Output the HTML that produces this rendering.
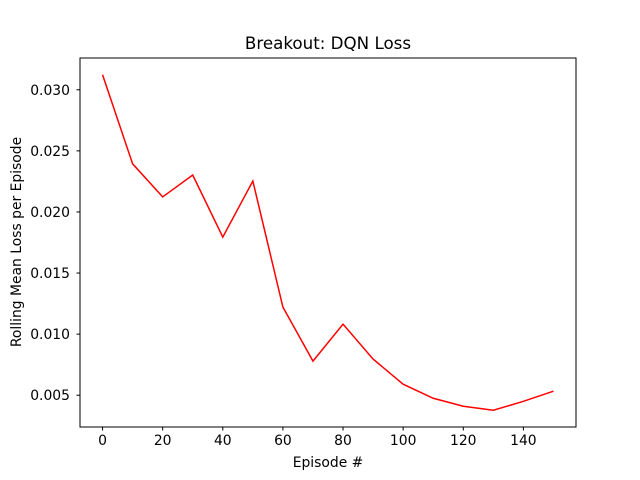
<!DOCTYPE html>
<html><head><meta charset="utf-8"><style>
body{margin:0;background:#fff;}
svg{display:block;font-family:"DejaVu Sans","Liberation Sans",sans-serif;}
</style></head><body>
<svg id="c" width="640" height="480">
<rect width="640" height="480" fill="#fff"/>
<text x="328" y="49" font-size="16.7" text-anchor="middle">Breakout: DQN Loss</text>
<text x="328" y="467" font-size="13.9" text-anchor="middle">Episode #</text>
<text transform="translate(21,242) rotate(-90)" font-size="13.9" text-anchor="middle">Rolling Mean Loss per Episode</text>
<g id="ticks"></g>
<polyline id="line" fill="none" stroke="#ff0000" stroke-width="1.5"/>
<rect x="80" y="58" width="496" height="369" fill="none" stroke="#000" stroke-width="1"/>
</svg>
<script>
const episodes=[0,10,20,30,40,50,60,70,80,90,100,110,120,130,140,150];
const losses=[0.03123,0.02394,0.02123,0.02302,0.01794,0.02253,0.01221,0.00779,0.01082,0.00796,0.0059,0.00475,0.0041,0.00377,0.0045,0.00533];
const xTicks=[0,20,40,60,80,100,120,140];
const yTicks=[0.005,0.010,0.015,0.020,0.025,0.030];
const yLabels=["0.005","0.010","0.015","0.020","0.025","0.030"];
const L=80,R=576,T=58,B=427;
const xMin=-7.5,xMax=157.5,yMin=0.0024,yMax=0.0326;
function sx(v){return L+(v-xMin)/(xMax-xMin)*(R-L);}
function sy(v){return B-(v-yMin)/(yMax-yMin)*(B-T);}
const NS="http://www.w3.org/2000/svg";
const g=document.getElementById('ticks');
xTicks.forEach(t=>{
 const l=document.createElementNS(NS,'line');
 l.setAttribute('x1',sx(t));l.setAttribute('x2',sx(t));l.setAttribute('y1',B);l.setAttribute('y2',B+3.5);l.setAttribute('stroke','#000');
 
 
 g.appendChild(l);
 const tx=document.createElementNS(NS,'text');
 tx.setAttribute('x',sx(t));tx.setAttribute('y',B+18);tx.setAttribute('font-size','13.9');tx.setAttribute('text-anchor','middle');tx.textContent=t;
 
 
 g.appendChild(tx);
});
yTicks.forEach((t,i)=>{
 const l=document.createElementNS(NS,'line');
 l.setAttribute('x1',L-3.5);l.setAttribute('x2',L);l.setAttribute('y1',sy(t));l.setAttribute('y2',sy(t));l.setAttribute('stroke','#000');
 
 
 g.appendChild(l);
 const tx=document.createElementNS(NS,'text');
 tx.setAttribute('x',L-10);tx.setAttribute('y',sy(t)+5);tx.setAttribute('font-size','13.9');tx.setAttribute('text-anchor','end');tx.textContent=yLabels[i];
 
 
 g.appendChild(tx);
});
document.getElementById('line').setAttribute('points',episodes.map((e,i)=>sx(e)+','+sy(losses[i])).join(' '));
</script>
</body></html>
